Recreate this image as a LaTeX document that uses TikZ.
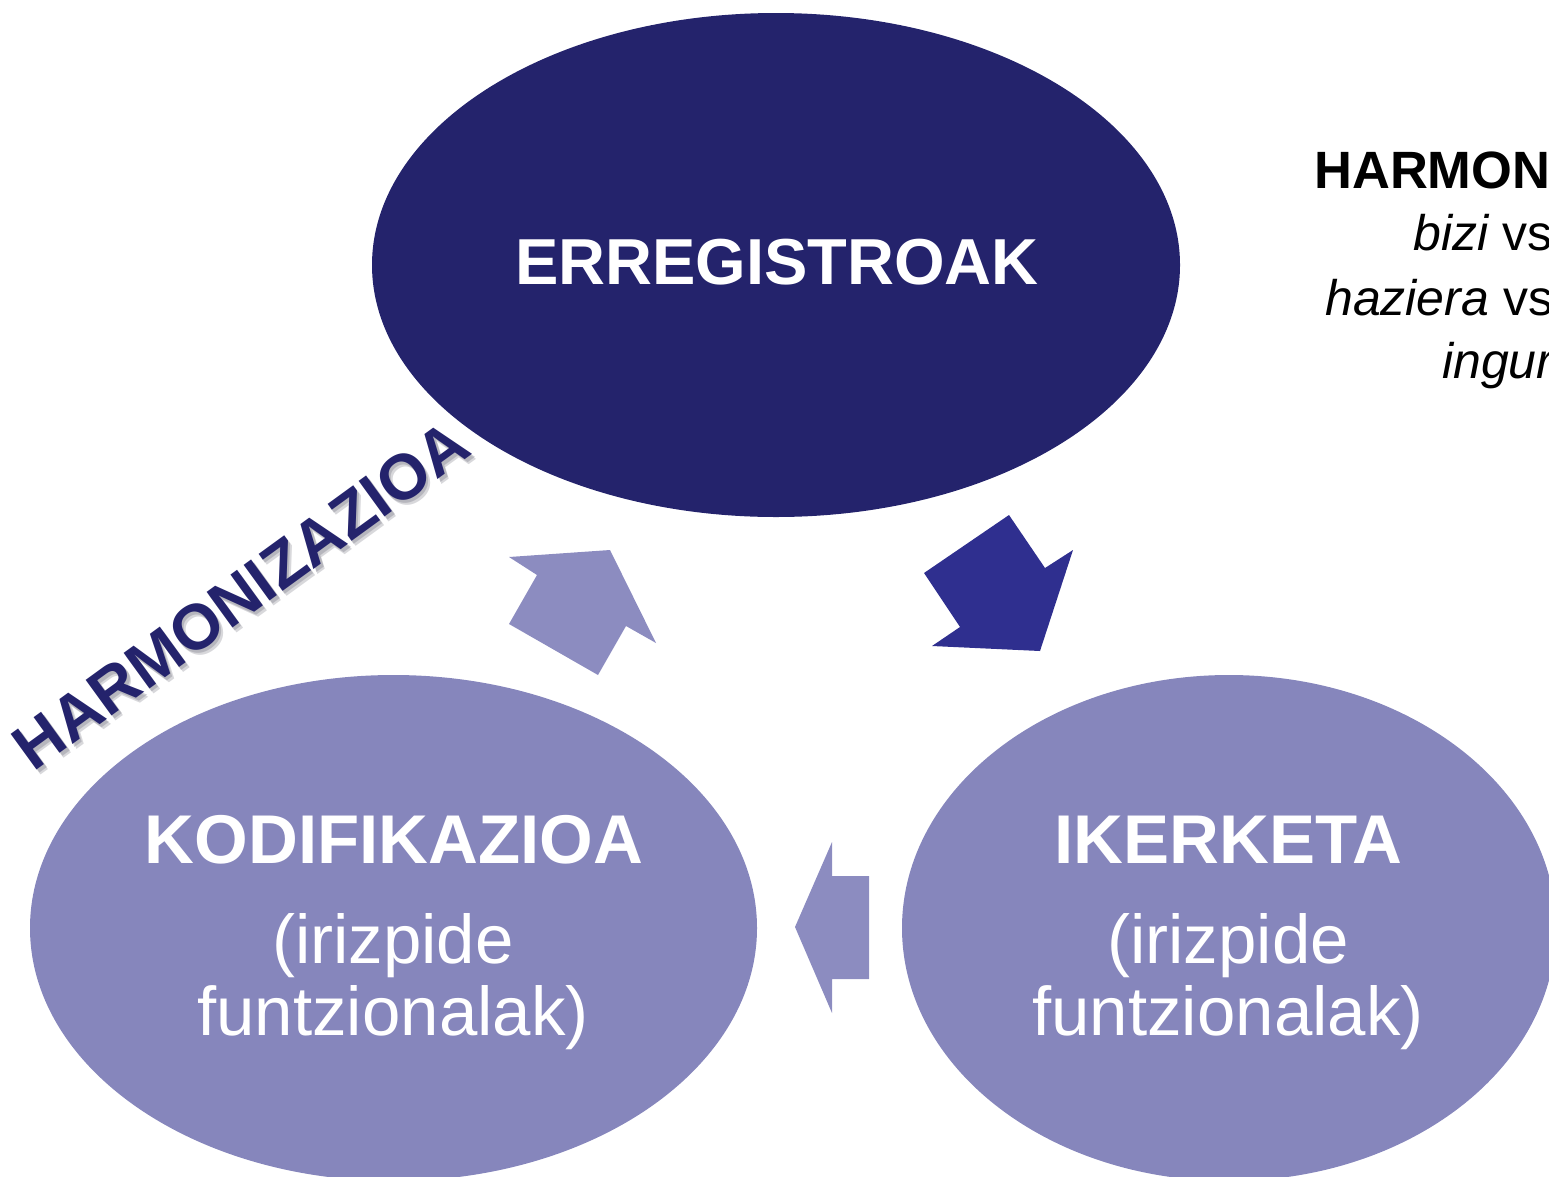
\documentclass[tikz,border=0pt]{standalone}
\usepackage{fontspec}
\setmainfont{Liberation Sans}
\usetikzlibrary{shapes.geometric}
\definecolor{navy}{HTML}{24236C}
\definecolor{darkarrow}{HTML}{2F2F8F}
\definecolor{lilac}{HTML}{8686BC}
\definecolor{lilacarrow}{HTML}{8C8CC0}
\definecolor{shadowgray}{HTML}{8E8E98}

\begin{document}
\begin{tikzpicture}[x=1pt,y=-1pt,
  oval/.style={ellipse, inner sep=0pt, draw=none},
  title/.style={text=white, inner sep=0pt, anchor=base,
    font=\bfseries\fontsize{69}{69}\selectfont},
  sub/.style={text=white, inner sep=0pt, anchor=base,
    font=\fontsize{69}{72}\selectfont},
  note/.style={inner sep=0pt, anchor=base west,
    font=\fontsize{50}{50}\selectfont},
  slanted/.style={inner sep=0pt, rotate=36,
    font=\bfseries\fontsize{64}{64}\selectfont}]
\useasboundingbox (0,0) rectangle (1549,1176);
\clip (0,0) rectangle (1549,1176);

% the three stages
\node[oval, fill=navy, minimum width=808pt, minimum height=504pt] (reg) at (776,265) {};
\node[oval, fill=lilac, minimum width=727pt, minimum height=506pt] (kod) at (393.5,928) {};
\node[oval, fill=lilac, minimum width=654pt, minimum height=506pt] (ike) at (1229,928) {};

\node[title, font=\bfseries\fontsize{65}{65}\selectfont] (regT) at (777,284) {ERREGISTROAK};

\node[title] (kodT) at (394,863) {KODIFIKAZIOA};
\node[sub] (kodA) at (393,963) {(irizpide};
\node[sub] (kodB) at (393,1035) {funtzionalak)};

\node[title] (ikeT) at (1228.5,863) {IKERKETA};
\node[sub] (ikeA) at (1228,963) {(irizpide};
\node[sub] (ikeB) at (1228,1035) {funtzionalak)};

% block arrows of the cycle
\fill[darkarrow] (924,573) -- (1009,515) -- (1045,568) -- (1073,550)
  -- (1040,651) -- (932,646) -- (960,627) -- cycle;
\fill[lilacarrow] (832,842) -- (832,876) -- (869,876) -- (869,979)
  -- (832,979) -- (832,1013) -- (795,927) -- cycle;
\fill[lilacarrow] (509,557) -- (610,550) -- (656,643) -- (626,626)
  -- (598,675) -- (509,624) -- (537,575) -- cycle;

% slanted label with its soft shadow
\node[slanted, text=shadowgray, opacity=0.35] (harmS2) at (245,600) {HARMONIZAZIOA};
\node[slanted, text=shadowgray, opacity=0.45] (harmS) at (243.5,598) {HARMONIZAZIOA};
\node[slanted, text=navy] (harm) at (241,595) {HARMONIZAZIOA};

% side note
\node[note, font=\bfseries\fontsize{52.5}{52.5}\selectfont] (nh) at (1314,188) {HARMONIZAZIOA};
\node[note] (n1) at (1413,250) {\itshape bizi\upshape{} vs};
\node[note] (n2) at (1325,315) {\itshape haziera\upshape{} vs};
\node[note] (n3) at (1442,378) {\itshape inguru};
\end{tikzpicture}
\end{document}
